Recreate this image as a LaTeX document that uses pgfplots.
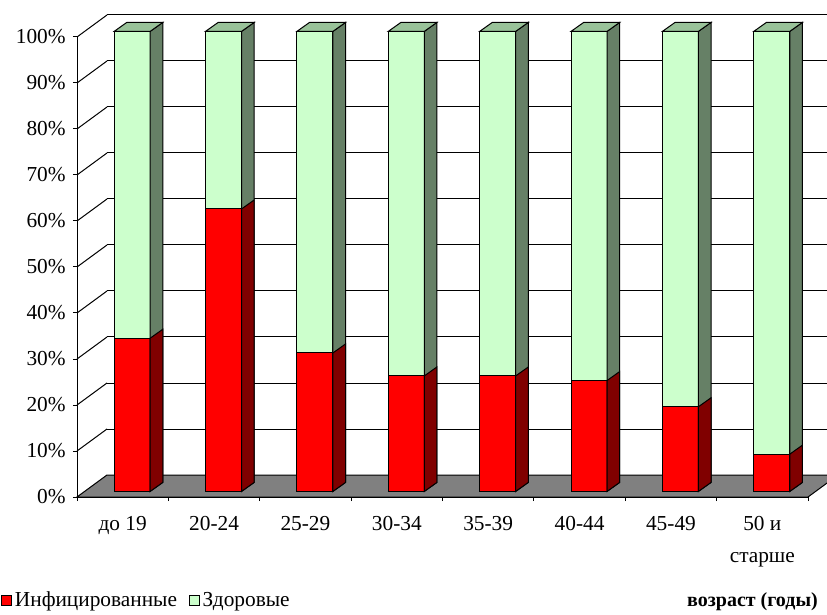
\documentclass[border=0pt]{standalone}
\usepackage{pgfplots}
\pgfplotsset{compat=1.18}
\usepackage{pgfplotstable}
\usepackage{fontspec}
\setmainfont{Liberation Serif}

\definecolor{redfront}{HTML}{FF0000}
\definecolor{redside}{HTML}{800000}
\definecolor{grnfront}{HTML}{CCFFCC}
\definecolor{grnside}{HTML}{668066}
\definecolor{grntop}{HTML}{99C299}
\definecolor{floorgray}{HTML}{808080}

\pgfplotstableread{
x    inf   hea
0.5  33.3  66.7
1.5  61.4  38.6
2.5  30.1  69.9
3.5  25.1  74.9
4.5  25.1  74.9
5.5  24.1  75.9
6.5  18.4  81.6
7.5  8.1   91.9
}\datatable

% side face of a segment whose top is at the mark and whose height is \segh (data units)
\pgfdeclareplotmark{sideface}{%
  \pgfpathmoveto{\pgfpoint{13.5pt}{0pt}}%
  \pgfpathlineto{\pgfpoint{23pt}{6.75pt}}%
  \pgfpathlineto{\pgfpoint{23pt}{6.75pt-\segh*3.45pt}}%
  \pgfpathlineto{\pgfpoint{13.5pt}{-\segh*3.45pt}}%
  \pgfpathclose
  \pgfusepathqfillstroke
}
\pgfdeclareplotmark{topface}{%
  \pgfpathmoveto{\pgfpoint{-13.5pt}{0pt}}%
  \pgfpathlineto{\pgfpoint{13.5pt}{0pt}}%
  \pgfpathlineto{\pgfpoint{23pt}{6.75pt}}%
  \pgfpathlineto{\pgfpoint{-4pt}{6.75pt}}%
  \pgfpathclose
  \pgfusepathqfillstroke
}

\newcommand{\lblfont}{\rmfamily\fontsize{16}{19}\selectfont}

\begin{document}
\begin{tikzpicture}
\useasboundingbox (-57.75pt,-87.75pt) rectangle (562.5pt,372.75pt);
\clip (-57.75pt,-87.75pt) rectangle (562.5pt,372.75pt);

% back wall
\begin{axis}[
  at={(22.5pt,16.5pt)}, anchor=south west,
  x=68.53125pt, y=3.45pt, xmin=0, xmax=8, ymin=0, ymax=100,
  enlargelimits=false, clip=false,
  axis line style={draw=none},
  xtick=\empty, ytick={0,10,...,100}, yticklabels={},
  ytick style={draw=none},
  ymajorgrids, grid style={black, line width=0.75pt},
]
\end{axis}

% floor and side wall lines
\filldraw[fill=floorgray, draw=black, line width=0.75pt]
  (0pt,0pt) -- (548.25pt,0pt) -- (570.75pt,16.5pt) -- (22.5pt,16.5pt) -- cycle;
\foreach \k in {1,...,10} \draw[line width=0.75pt] (0pt,\k*34.5pt) -- ++(22.5pt,16.5pt);

% front axis
\begin{axis}[
  at={(0pt,0pt)}, anchor=south west,
  x=68.53125pt, y=3.45pt, xmin=0, xmax=8, ymin=0, ymax=100,
  enlargelimits=false, clip=false,
  axis lines*=left,
  axis line style={black, line width=0.75pt},
  xtick={0,...,8}, x tick label as interval,
  xticklabels={до 19,20-24,25-29,30-34,35-39,40-44,45-49,{50 и\\[5pt]старше}},
  ytick={0,10,...,100},
  yticklabel={\pgfmathprintnumber{\tick}\%},
  tick align=outside, major tick length=3pt,
  tick style={black, line width=0.75pt},
  tick label style={font=\lblfont},
  /pgf/number format/assume math mode=true,
  xticklabel style={align=center, anchor=north, yshift=-8pt},
  yticklabel style={xshift=-2pt},
  xlabel={возраст (годы)},
  xlabel style={at={(axis description cs:1.0137,-0.2283)}, anchor=east,
    font=\rmfamily\bfseries\fontsize{15}{18}\selectfont, inner sep=0pt},
]
\end{axis}

% bars
\begin{axis}[
  at={(7.1pt,4.2pt)}, anchor=south west,
  x=68.53125pt, y=3.45pt, xmin=0, xmax=8, ymin=0, ymax=100,
  enlargelimits=false, clip=false,
  hide axis,
  reverse legend,
  legend style={draw=none, fill=none, at={(-0.1169,-0.2361)}, anchor=west,
    legend columns=-1, inner sep=0pt, font=\lblfont,
    /tikz/every even column/.append style={column sep=7pt}},
  legend cell align=left,
]
% whole column (healthy on top of infected): front faces
\addplot[ybar, bar width=27pt, bar shift=0pt, fill=grnfront, draw=black, line width=0.75pt,
  legend image code/.code={\draw[fill=grnfront, draw=black, line width=0.75pt] (0pt,-3.75pt) rectangle (7.5pt,3.75pt);}]
  table[x=x, y expr=\thisrow{inf}+\thisrow{hea}] {\datatable};
\addlegendentry{Здоровые}
\addplot[ybar, bar width=27pt, bar shift=0pt, fill=redfront, draw=black, line width=0.75pt,
  legend image code/.code={\draw[fill=redfront, draw=black, line width=0.75pt] (0pt,-3.75pt) rectangle (7.5pt,3.75pt);}]
  table[x=x, y=inf] {\datatable};
\addlegendentry{Инфицированные}

% side faces: whole column in green, then the infected part in dark red
\addplot[forget plot, only marks, scatter, mark=sideface,
  scatter/use mapped color={draw=black, fill=grnside},
  mark options={line width=0.75pt},
  visualization depends on={rawy \as \segh}]
  table[x=x, y expr=\thisrow{inf}+\thisrow{hea}] {\datatable};
\addplot[forget plot, only marks, scatter, mark=sideface,
  scatter/use mapped color={draw=black, fill=redside},
  mark options={line width=0.75pt},
  visualization depends on={rawy \as \segh}]
  table[x=x, y=inf] {\datatable};
% top faces
\addplot[forget plot, only marks, scatter, mark=topface,
  scatter/use mapped color={draw=black, fill=grntop},
  mark options={line width=0.75pt}]
  table[x=x, y expr=\thisrow{inf}+\thisrow{hea}] {\datatable};
\end{axis}
\end{tikzpicture}
\end{document}
